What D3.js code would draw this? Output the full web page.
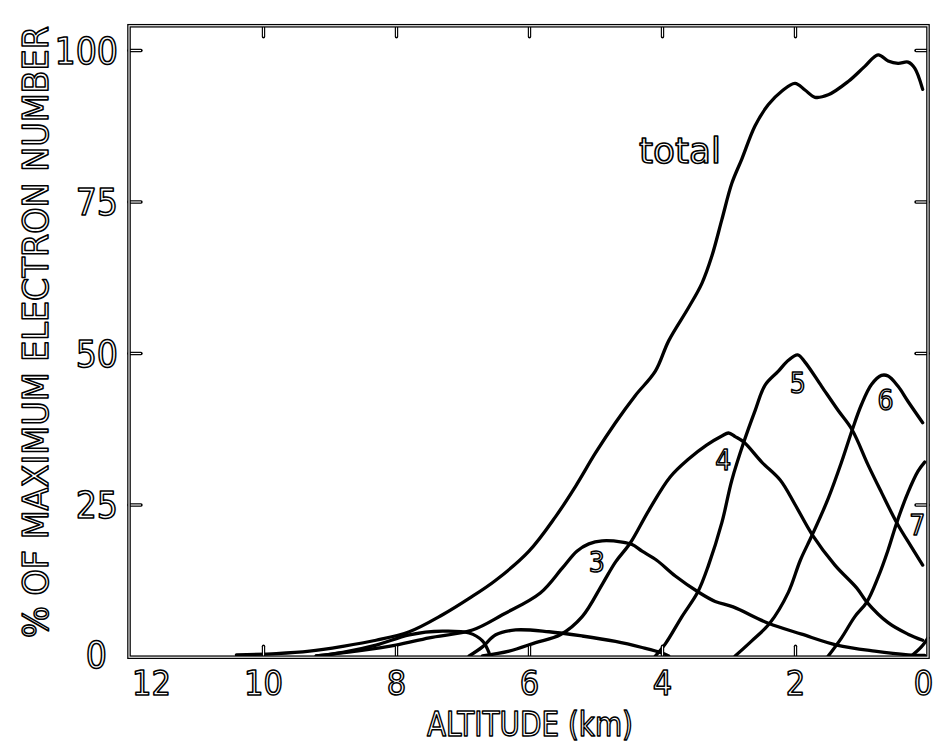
<!DOCTYPE html>
<html>
<head>
<meta charset="utf-8">
<script src="https://cdn.jsdelivr.net/npm/d3@7"></script>
<style>
  html, body { margin: 0; padding: 0; background: #fff; }
  svg { display: block; }
  .hollow {
    font-family: "Liberation Sans Narrow", "DejaVu Sans Condensed", "DejaVu Sans", sans-serif;
    fill: #fff;
    stroke: #000;
    stroke-width: 1.5px;
    stroke-linejoin: round;
  }
</style>
</head>
<body>
<svg id="chart" width="935" height="745"></svg>
<script>
// Axis ticks
const yTickValues = [0, 25, 50, 75, 100];
const xTickValues = [12, 10, 8, 6, 4, 2, 0];
const innerXTicks = [10, 8, 6, 4, 2];
const innerYTicks = [25, 50, 75, 100];

// Curves: [altitude (km), % of maximum electron number]
const totalCurve = [
  [10.4, 0.2], [9.8, 0.4], [9.3, 0.8], [8.8, 1.6], [8.3, 2.6], [7.8, 4.0],
  [7.3, 6.8], [6.9, 9.5], [6.5, 12.5], [6.0, 17.3], [5.6, 23.0], [5.3, 28.0],
  [5.0, 33.5], [4.7, 38.5], [4.4, 43.0], [4.1, 47.0], [3.9, 52.0], [3.6, 57.5],
  [3.4, 61.5], [3.25, 66.0], [3.1, 72.0], [2.95, 78.0], [2.8, 82.0], [2.6, 87.5],
  [2.4, 91.0], [2.2, 93.2], [2.0, 94.5], [1.85, 93.4], [1.7, 92.2], [1.5, 92.6],
  [1.2, 94.8], [0.95, 97.3], [0.75, 99.2], [0.6, 98.2], [0.45, 97.8], [0.3, 98.0],
  [0.2, 97.0], [0.08, 93.5]
];
const curveA = [
  [9.2, 0], [8.8, 0.6], [8.3, 1.8], [7.8, 3.5], [7.3, 4.1], [6.9, 3.8],
  [6.7, 2.5], [6.6, 0.5]
];
const curveB = [
  [6.9, 0], [6.7, 1.5], [6.5, 3.5], [6.2, 4.3], [5.7, 4.0], [5.2, 3.3],
  [4.7, 2.4], [4.3, 1.4], [4.0, 0.5], [3.9, 0]
];
const curve3 = [
  [9.2, 0], [8.6, 0.8], [8.0, 1.8], [7.5, 3.0], [6.85, 4.3], [6.4, 6.8],
  [5.83, 10.4], [5.5, 14.5], [5.28, 17.3], [5.1, 18.5], [4.9, 19.0], [4.6, 18.8],
  [4.45, 18.4], [4.3, 17.3], [4.08, 15.8], [3.8, 13.2], [3.46, 10.6], [3.2, 9.0],
  [2.93, 8.1], [2.4, 5.4], [1.9, 3.6], [1.37, 1.8], [0.8, 0.8], [0.3, 0.2], [0.05, 0.1]
];
const curve4 = [
  [6.7, 0], [6.3, 0.8], [5.9, 2.2], [5.53, 3.5], [5.2, 6.5], [4.89, 12.0],
  [4.7, 15.5], [4.48, 18.6], [4.2, 24.0], [3.88, 29.5], [3.6, 32.5], [3.33, 34.8],
  [3.1, 36.3], [3.0, 36.8], [2.9, 36.2], [2.77, 35.3], [2.5, 32.0], [2.22, 29.0],
  [2.0, 25.0], [1.74, 20.0], [1.4, 15.0], [1.07, 11.2], [0.92, 8.9], [0.6, 5.5],
  [0.3, 3.6], [0.08, 2.6]
];
const curve5 = [
  [4.1, 0], [3.95, 2.0], [3.7, 6.5], [3.46, 10.6], [3.3, 15.0], [3.1, 22.0],
  [2.95, 29.0], [2.77, 35.3], [2.6, 40.5], [2.45, 44.7], [2.25, 47.0], [2.1, 48.8],
  [1.96, 49.7], [1.85, 48.5], [1.6, 44.5], [1.35, 40.5], [1.14, 37.3], [0.9, 31.5],
  [0.7, 27.0], [0.47, 22.0], [0.25, 18.0], [0.08, 15.0]
];
const curve6 = [
  [2.9, 0], [2.65, 2.5], [2.38, 5.4], [2.1, 10.5], [1.92, 15.8], [1.74, 20.0],
  [1.5, 26.0], [1.3, 32.0], [1.14, 37.3], [1.0, 41.5], [0.85, 44.8], [0.7, 46.3],
  [0.6, 46.2], [0.45, 44.5], [0.3, 42.0], [0.08, 38.5]
];
const curve7 = [
  [1.5, 0], [1.3, 3.0], [1.1, 6.5], [0.92, 8.9], [0.75, 13.0], [0.6, 17.5],
  [0.47, 22.0], [0.3, 27.0], [0.15, 30.5], [0.05, 32.0]
];
const curve8 = [
  [0.25, 0], [0.1, 1.5], [0.0, 3.0]
];

const allCurves = [curveA, curveB, curve3, curve4, curve5, curve6, curve7, curve8, totalCurve];

const svg = d3.select("#chart");

const x = d3.scaleLinear().domain([12, 0]).range([130, 928]);
const y = d3.scaleLinear().domain([0, 100]).range([656, 50]);
const frameTop = y(104);
const frameBottom = y(-0.2);

// Curves
const line = d3.line()
  .x(d => x(d[0]))
  .y(d => y(d[1]))
  .curve(d3.curveCatmullRom.alpha(0.5));

svg.append("g")
  .selectAll("path")
  .data(allCurves)
  .join("path")
  .attr("d", line)
  .attr("fill", "none")
  .attr("stroke", "#000")
  .attr("stroke-width", 3.3)
  .attr("stroke-linejoin", "round")
  .attr("stroke-linecap", "round");

// Frame and inward ticks, drawn as an outlined double stroke
function outlined(g) {
  g.selectAll(".domain").remove();
  g.selectAll(".tick text").remove();
  g.selectAll(".tick line")
    .attr("stroke", "#000")
    .attr("stroke-width", 3.4)
    .attr("stroke-linecap", "round");
}

const gTop = svg.append("g").attr("transform", `translate(0,${frameTop})`)
  .call(d3.axisTop(x).tickValues(innerXTicks).tickSize(-11)).call(outlined);
const gBot = svg.append("g").attr("transform", `translate(0,${frameBottom})`)
  .call(d3.axisBottom(x).tickValues(innerXTicks).tickSize(-11)).call(outlined);
const gLeft = svg.append("g").attr("transform", `translate(${x(12) - 1},0)`)
  .call(d3.axisLeft(y).tickValues(innerYTicks).tickSize(-12)).call(outlined);
const gRight = svg.append("g").attr("transform", `translate(${x(0)},0)`)
  .call(d3.axisRight(y).tickValues(innerYTicks).tickSize(-12)).call(outlined);

svg.append("rect")
  .attr("x", x(12) - 1).attr("y", frameTop)
  .attr("width", x(0) - x(12) + 1).attr("height", frameBottom - frameTop)
  .attr("fill", "none").attr("stroke", "#000").attr("stroke-width", 3.6);

// white cores give the doubled-line look of the frame and its ticks
[gTop, gBot, gLeft, gRight].forEach(g => {
  g.selectAll(".tick").append("line")
    .attr("x1", 0).attr("y1", 0)
    .attr("x2", function () { return d3.select(this.parentNode).select("line").attr("x2") || 0; })
    .attr("y2", function () { return d3.select(this.parentNode).select("line").attr("y2") || 0; })
    .attr("stroke", "#fff").attr("stroke-width", 1.1);
});
svg.append("rect")
  .attr("x", x(12) - 1).attr("y", frameTop)
  .attr("width", x(0) - x(12) + 1).attr("height", frameBottom - frameTop)
  .attr("fill", "none").attr("stroke", "#fff").attr("stroke-width", 1.1);

// Tick labels
const yAxis = svg.append("g").attr("transform", `translate(118,0)`)
  .call(d3.axisLeft(y).tickValues(yTickValues).tickSize(0).tickPadding(0));
yAxis.select(".domain").remove();
yAxis.selectAll(".tick text")
  .attr("class", "hollow")
  .attr("font-size", 37)
  .attr("dy", "0.36em")
  .attr("text-anchor", "end")
  .attr("x", d => d === 0 ? -11 : 0)
  .attr("y", d => d === 0 ? -2 : 0);

const xAxis = svg.append("g").attr("transform", `translate(0,${frameBottom})`)
  .call(d3.axisBottom(x).tickValues(xTickValues).tickSize(0).tickPadding(0));
xAxis.select(".domain").remove();
xAxis.selectAll(".tick text")
  .attr("class", "hollow")
  .attr("font-size", 34)
  .attr("dy", 0)
  .attr("y", 38)
  .attr("x", d => d === 12 ? 21 : (d === 0 ? -5 : 0))
  .attr("text-anchor", "middle");

// Axis titles
svg.append("text")
  .attr("class", "hollow")
  .attr("x", 530).attr("y", 736)
  .attr("text-anchor", "middle")
  .attr("font-size", 34)
  .attr("textLength", 206).attr("lengthAdjust", "spacingAndGlyphs")
  .text("ALTITUDE (km)");

svg.append("text")
  .attr("class", "hollow")
  .attr("transform", "translate(48,332) rotate(-90)")
  .attr("text-anchor", "middle")
  .attr("font-size", 36)
  .attr("textLength", 612).attr("lengthAdjust", "spacingAndGlyphs")
  .text("% OF MAXIMUM ELECTRON NUMBER");

// Curve labels
const curveLabels = [
  { text: "total", alt: 3.73, pct: 81.4, size: 36, len: 82 },
  { text: "3", alt: 4.98, pct: 13.9, size: 28 },
  { text: "4", alt: 3.08, pct: 30.7, size: 28 },
  { text: "5", alt: 1.96, pct: 43.4, size: 28 },
  { text: "6", alt: 0.64, pct: 40.6, size: 28 },
  { text: "7", alt: 0.16, pct: 20.0, size: 28 }
];
curveLabels.forEach(l => {
  const t = svg.append("text")
    .attr("class", "hollow")
    .attr("x", x(l.alt)).attr("y", y(l.pct))
    .attr("text-anchor", "middle")
    .attr("font-size", l.size)
    .text(l.text);
  if (l.len) t.attr("textLength", l.len).attr("lengthAdjust", "spacingAndGlyphs");
});
</script>
</body>
</html>
